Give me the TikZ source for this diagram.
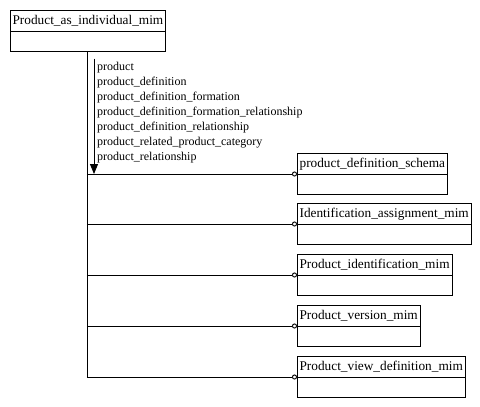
\documentclass[tikz,border=0pt]{standalone}
\usepackage{fontspec}
\setmainfont{Liberation Serif}
\usetikzlibrary{arrows.meta}
\tikzset{
  entity/.style={draw, line width=0.9pt, anchor=north west, inner xsep=2.6pt, inner ysep=4pt,
    outer sep=0pt, text height=10.5pt, text depth=2.5pt, font=\fontsize{13.3}{15}\selectfont},
  body/.style={draw, line width=0.9pt},
  link/.style={line width=0.9pt, -{Circle[open, length=5pt, width=5pt, line width=0.9pt]}},
  lbl/.style={anchor=base west, inner sep=0pt, font=\fontsize{12}{15}\selectfont}
}
\begin{document}
\begin{tikzpicture}[x=1pt, y=-1pt, line join=miter, >=Triangle]
	\useasboundingbox (0,0) rectangle (480,407);
	% top schema
	\node[entity] (pai) at (10,10) {Product\_as\_individual\_mim};
	\draw[body] (pai.south west) rectangle ([yshift=-20.5pt]pai.south east);
	\coordinate (trunk) at ([xshift=-1pt, yshift=-20.5pt]pai.south);
	% used schemas
	\foreach \nm/\txt/\y in {pds/product\_definition\_schema/153,
	                         iam/Identification\_assignment\_mim/203,
	                         pim/Product\_identification\_mim/254,
	                         pvm/Product\_version\_mim/305,
	                         pvd/Product\_view\_definition\_mim/356}{
		\node[entity] (\nm) at (297,\y) {\txt};
		\draw[body] (\nm.south west) rectangle ([yshift=-20.5pt]\nm.south east);
		\draw[link] (trunk |- \nm.south west) -- (\nm.south west);
	}
	\draw[line width=0.9pt] (trunk) -- (trunk |- pvd.south west);
	% reference arrow
	\coordinate (rtop) at (94,58.5);
	\draw[line width=0.9pt, -{Triangle[length=10pt, width=8pt]}] (rtop) -- (rtop |- pds.south west);
	\foreach \t [count=\i] in {product, product\_definition, product\_definition\_formation,
	    product\_definition\_formation\_relationship, product\_definition\_relationship,
	    product\_related\_product\_category, product\_relationship}
		\node[lbl] (ref\i) at (97,55+15*\i) {\t};
\end{tikzpicture}
\end{document}
